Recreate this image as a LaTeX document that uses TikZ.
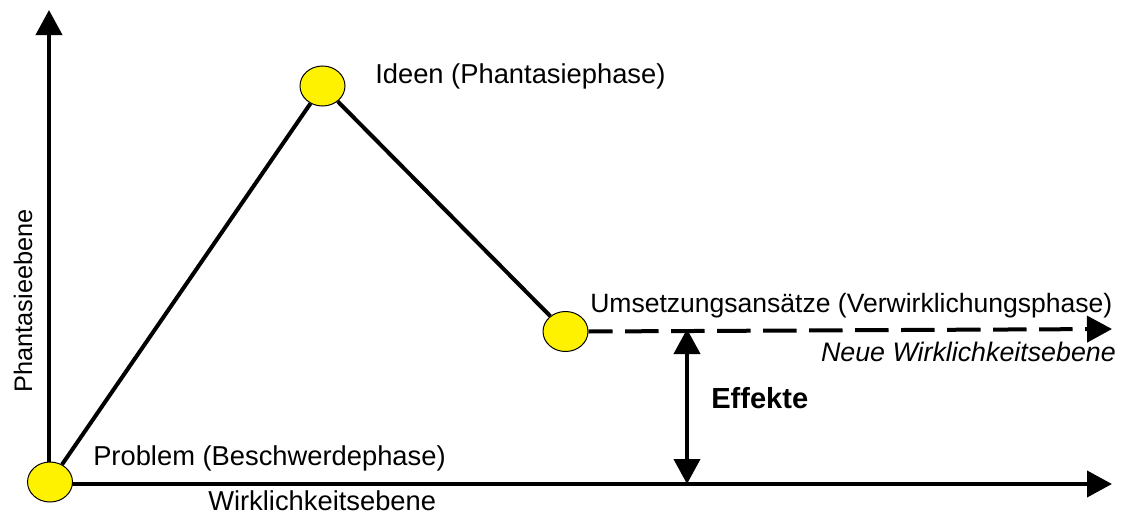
\documentclass[tikz,border=0pt]{standalone}
\usepackage{fontspec}
\setmainfont{Liberation Sans}
\usetikzlibrary{arrows.meta,shapes.geometric}
\tikzset{
  phase/.style={draw=black,fill=yellow,ellipse,line width=0.75,inner sep=0,minimum width=33.75pt,minimum height=30pt},
  axis/.style={line width=3pt,-{Triangle[length=18.75pt,width=19.5pt]}},
  lab/.style={font=\fontsize{20.5}{24}\selectfont,inner sep=0}
}
\begin{document}
\begin{tikzpicture}[x=0.75pt,y=0.75pt,yscale=-1,xscale=1]
\useasboundingbox (0,0) rectangle (1128,514);

%Coordinates of the axes
\coordinate (origin) at (49,484);
\coordinate (ytip) at (49,10);
\coordinate (xtip) at (1112,484);
\coordinate (dtip) at (1112,329);
\coordinate (etop) at (687,329);
\coordinate (ebot) at (687,484);

%Axes
\draw [axis] (origin) -- (ytip) ;
\draw [axis] (origin) -- (xtip) ;

%Phases
\node [phase] (problem) at (50,482) {};
\node [phase] (ideen) at (322.5,86) {};
\node [phase] (umsetzung) at (565.5,331.5) {};

%Straight Lines
\draw [line width=3pt] (problem) -- (ideen) ;
\draw [line width=3pt] (ideen) -- (umsetzung) ;

%Dashed Line
\draw [axis,dash pattern=on 25pt off 9.5pt,dash phase=7pt] (umsetzung.east) -- (dtip) ;

%Double Arrow
\draw [line width=3pt,{Triangle[length=18.75pt,width=19.5pt]}-{Triangle[length=18.75pt,width=19.5pt]}] (etop) -- (ebot) ;

% Text Node
\node [lab,anchor=base west] (tideen) at (375,83) {Ideen (Phantasiephase)};
% Text Node
\node [lab,font=\fontsize{19.9}{24}\selectfont,anchor=base west] (tumsetzung) at (590,312) {Umsetzungsansätze (Verwirklichungsphase)};
% Text Node
\node [lab,font=\fontsize{20.1}{24}\selectfont,anchor=base east] (tneue) at (1116,361) {\itshape Neue Wirklichkeitsebene};
% Text Node
\node [lab,font=\fontsize{21.8}{26}\selectfont,anchor=base west] (teffekte) at (711,408) {\bfseries Effekte};
% Text Node
\node [lab,anchor=base west] (tproblem) at (93,465) {Problem (Beschwerdephase)};
% Text Node
\node [lab,anchor=base west] (twirk) at (208,510) {Wirklichkeitsebene};
% Text Node
\node [lab,font=\fontsize{19}{22}\selectfont,rotate=90,anchor=base] (tphant) at (32,301) {Phantasieebene};

\end{tikzpicture}
\end{document}
